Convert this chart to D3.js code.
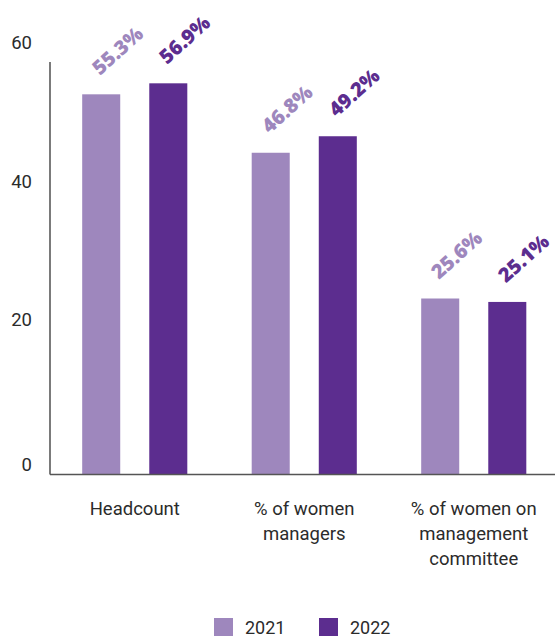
<!DOCTYPE html>
<html><head><meta charset="utf-8">
<script src="https://cdn.jsdelivr.net/npm/d3@7"></script>
<style>body{margin:0;background:#fff}svg{display:block}</style>
</head><body>
<script>
const categories = [["Headcount"], ["% of women", "managers"], ["% of women on", "management", "committee"]];
const categoryKeys = ["Headcount", "% of women managers", "% of women on management committee"];
const years = ["2021", "2022"];
const values2021 = [55.3, 46.8, 25.6];
const values2022 = [56.9, 49.2, 25.1];
const yTicks = [0, 20, 40, 60];
const colors = {"2021": "#9e87bd", "2022": "#5c2d8f"};

const W = 555, H = 637;
const svg = d3.select("body").append("svg").attr("width", W).attr("height", H);

const x = d3.scaleBand().domain(categoryKeys).range([50, 558.5]).padding(0);
const xi = d3.scaleBand().domain(years).range([0, x.bandwidth()]).paddingInner(0.433).paddingOuter(0.48);
const y = d3.scaleLinear().domain([0, 60]).range([474.5, 62]);
const yLabel = d3.scaleLinear().domain([0, 20, 60]).range([465, 320, 43]);

const data = [];
categoryKeys.forEach((c, i) => {
  data.push({cat: c, year: "2021", v: values2021[i]});
  data.push({cat: c, year: "2022", v: values2022[i]});
});

// bars
svg.append("g").selectAll("rect").data(data).join("rect")
  .attr("x", d => x(d.cat) + xi(d.year))
  .attr("width", xi.bandwidth())
  .attr("y", d => y(d.v))
  .attr("height", d => y(0) - y(d.v))
  .attr("fill", d => colors[d.year]);

// value labels
svg.append("g").selectAll("text").data(data).join("text")
  .attr("transform", d => `translate(${x(d.cat) + xi(d.year) + xi.bandwidth()/2 + 16},${y(d.v) - 44}) rotate(-42)`)
  .attr("text-anchor", "middle")
  .attr("dominant-baseline", "central")
  .attr("font-family", "'Open Sans', sans-serif")
  .attr("font-weight", 800)
  .attr("font-size", 20)
  .attr("fill", d => colors[d.year])
  .text(d => d.v.toFixed(1) + "%");

// y axis line
svg.append("line").attr("x1", 50).attr("x2", 50).attr("y1", y(60)).attr("y2", y(0))
  .attr("stroke", "#222").attr("stroke-width", 1.2);
// baseline
svg.append("line").attr("x1", 50).attr("x2", W).attr("y1", y(0)).attr("y2", y(0))
  .attr("stroke", "#555").attr("stroke-width", 1.5);

// y tick labels
svg.append("g").selectAll("text").data(yTicks).join("text")
  .attr("x", 32).attr("y", d => yLabel(d))
  .attr("text-anchor", "end").attr("dominant-baseline", "central")
  .attr("font-family", "Roboto, sans-serif").attr("font-size", 18.5).attr("fill", "#2b2b2b")
  .text(d => d);

// category labels
const cl = svg.append("g").selectAll("text").data(categoryKeys).join("text")
  .attr("x", d => x(d) + x.bandwidth()/2)
  .attr("y", 514.5)
  .attr("text-anchor", "middle")
  .attr("font-family", "Roboto, sans-serif").attr("font-size", 18.5).attr("fill", "#2b2b2b");
cl.each(function(d, i) {
  d3.select(this).selectAll("tspan").data(categories[i]).join("tspan")
    .attr("x", x(d) + x.bandwidth()/2)
    .attr("dy", (t, j) => j === 0 ? 0 : 25)
    .text(t => t);
});

// legend
const legendX = [214, 319];
const lg = svg.append("g").selectAll("g").data(years).join("g")
  .attr("transform", (d, i) => `translate(${legendX[i]},618)`);
lg.append("rect").attr("width", 19).attr("height", 18).attr("fill", d => colors[d]);
lg.append("text").attr("x", 31).attr("y", 15.5)
  .attr("font-family", "Roboto, sans-serif").attr("font-size", 18).attr("fill", "#2b2b2b")
  .text(d => d);
</script>
</body></html>
